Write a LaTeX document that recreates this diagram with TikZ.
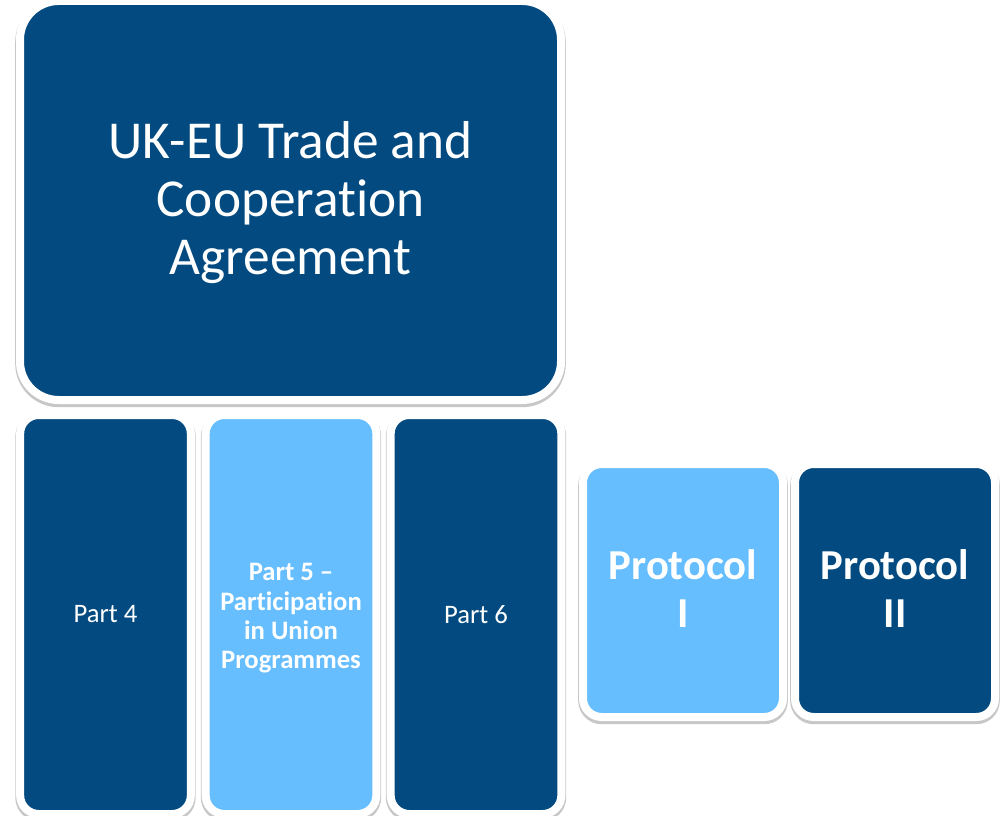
\documentclass[tikz,border=0pt]{standalone}
\usepackage{fontspec}
\setmainfont[Ligatures=NoCommon]{Carlito}
\usetikzlibrary{shadows}
\definecolor{darkblue}{RGB}{2,74,127}
\definecolor{lightblue}{RGB}{102,190,255}
% text lines of a block, moved up or down
\newcommand{\shiftlines}[2]{\raisebox{#1}[\height][\depth]{\begin{tabular}{@{}c@{}}#2\end{tabular}}}
\begin{document}
\begin{tikzpicture}[x=0.75pt,y=-0.75pt,
  block/.style={rectangle,draw=white,line width=6pt,text=white,align=center,
    inner sep=0pt,drop shadow={shadow xshift=0pt,shadow yshift=-1.8pt,opacity=0.22,
      fill=black,draw=black,line width=7.2pt}},
  bigblock/.style={block,fill=darkblue,rounded corners=29pt,minimum width=405.75pt,minimum height=299.25pt,
    font=\fontsize{40}{43.5}\selectfont},
  partdark/.style={block,fill=darkblue,rounded corners=14pt,minimum width=128pt,minimum height=299.25pt,
    font=\fontsize{20}{22}\selectfont},
  partlight/.style={partdark,fill=lightblue,font=\fontsize{20}{22}\selectfont\bfseries},
  protlight/.style={block,fill=lightblue,rounded corners=14pt,minimum width=150pt,minimum height=189.75pt,
    font=\fontsize{32}{36}\selectfont\bfseries},
  protdark/.style={protlight,fill=darkblue}]

    \useasboundingbox (0,0) rectangle (1002,816);

    \node[bigblock] (tca) at (290.5,200.5) {\shiftlines{-3.4pt}{UK-EU Trade and\\Cooperation\\Agreement}};

    \node[partdark] (part4) at (105.5,614.5) {Part 4};
    \node[partlight] (part5) at (291,614.5) {\shiftlines{-3.4pt}{Part 5 --\\Participation\\in Union\\Programmes}};
    \node[partdark] (part6) at (476,614.5) {Part 6};

    \node[protlight] (prot1) at (683,590.5) {\shiftlines{-2.2pt}{Protocol\\I}};
    \node[protdark] (prot2) at (895,590.5) {\shiftlines{-2.2pt}{Protocol\\II}};

\end{tikzpicture}
\end{document}
